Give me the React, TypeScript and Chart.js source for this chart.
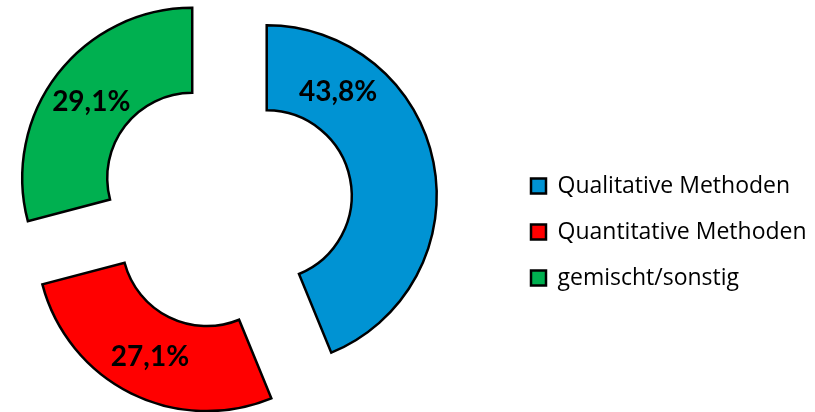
import React, { useEffect, useRef } from 'react';
import { Chart, registerables } from 'chart.js';

Chart.register(...registerables);

// ---- data ----
const categories: string[] = ['Qualitative Methoden', 'Quantitative Methoden', 'gemischt/sonstig'];
const shares: number[] = [43.8, 27.1, 29.1];

// ---- styles ----
const sliceColors: string[] = ['#0093D3', '#FF0000', '#00B050'];
const labelAnglePos: number[] = [0.216, 0.5, 0.5]; // where along each slice the % label sits
const EXPLODE = 42;
const OUTER_RADIUS = 170;
const CANVAS_W = 900;
const CANVAS_H = 412;
const SHIFT = 57;
const LEGEND_X = 531;
const LEGEND_FONT_SIZE = 23;
const LEGEND_BOX = 15;
const LEGEND_PAD = 23;
const LEGEND_FONT = 'Open Sans';
const LABEL_FONT = 'Lato';
const LABEL_DY = 2;

const fmt = (v: number) => v.toFixed(1).replace('.', ',') + '%';

const explodePlugin = {
  id: 'explodeSlices',
  afterDatasetUpdate(_chart: any, args: any) {
    args.meta.data.forEach((arc: any) => {
      const mid = (arc.startAngle + arc.endAngle) / 2;
      arc.x += Math.cos(mid) * EXPLODE;
      arc.y += Math.sin(mid) * EXPLODE;
    });
  },
};

const labelPlugin = {
  id: 'sliceLabels',
  afterDatasetsDraw(chart: any) {
    const meta = chart.getDatasetMeta(0);
    const ctx = chart.ctx as CanvasRenderingContext2D;
    ctx.save();
    ctx.font = `bold 28px "${LABEL_FONT}"`;
    ctx.fillStyle = '#000';
    ctx.textAlign = 'center';
    ctx.textBaseline = 'middle';
    meta.data.forEach((arc: any, i: number) => {
      const a = arc.startAngle + (arc.endAngle - arc.startAngle) * labelAnglePos[i];
      const r = (arc.innerRadius + arc.outerRadius) / 2;
      ctx.fillText(fmt(shares[i]), arc.x + Math.cos(a) * r, arc.y + Math.sin(a) * r + LABEL_DY);
    });
    ctx.restore();
  },
};

export default function App() {
  const ref = useRef<HTMLCanvasElement | null>(null);

  useEffect(() => {
    if (!ref.current) return;
    const m = document.createElement('canvas').getContext('2d')!;
    m.font = `${LEGEND_FONT_SIZE}px "${LEGEND_FONT}"`;
    const tw = Math.max(...categories.map((c) => m.measureText(c).width));
    const legendWidth = LEGEND_PAD + LEGEND_BOX + LEGEND_FONT_SIZE / 2 + tw + 10;
    const legendLeft = LEGEND_X + SHIFT - LEGEND_PAD;
    const padRight = CANVAS_W - legendLeft - legendWidth;

    const chart = new Chart(ref.current, {
      type: 'doughnut',
      data: {
        labels: categories,
        datasets: [
          {
            data: shares,
            backgroundColor: sliceColors,
            borderColor: '#000',
            borderWidth: 2.5,
            borderJoinStyle: 'miter',
            radius: OUTER_RADIUS,
          } as any,
        ],
      },
      options: {
        animation: false,
        responsive: true,
        maintainAspectRatio: false,
        events: [],
        cutout: '50%',
        rotation: 0,
        layout: { padding: { left: 0, right: padRight, top: 0, bottom: 5 } },
        plugins: {
          tooltip: { enabled: false },
          legend: {
            position: 'right',
            align: 'center',
            title: { display: true, text: '', padding: { top: 42.6, bottom: 0 }, font: { size: 12 } },
            labels: {
              color: '#000',
              boxWidth: LEGEND_BOX,
              boxHeight: LEGEND_BOX,
              padding: LEGEND_PAD,
              font: { family: LEGEND_FONT, size: LEGEND_FONT_SIZE },
            },
          },
        },
      },
      plugins: [explodePlugin, labelPlugin],
    });
    return () => chart.destroy();
  }, []);

  return (
    <div style={{ position: 'fixed', left: 0, top: 0, width: 815, height: 412, overflow: 'hidden', background: '#fff' }}>
      <div style={{ position: 'absolute', left: -SHIFT, top: 0, width: CANVAS_W, height: CANVAS_H }}>
        <canvas ref={ref} />
      </div>
    </div>
  );
}
